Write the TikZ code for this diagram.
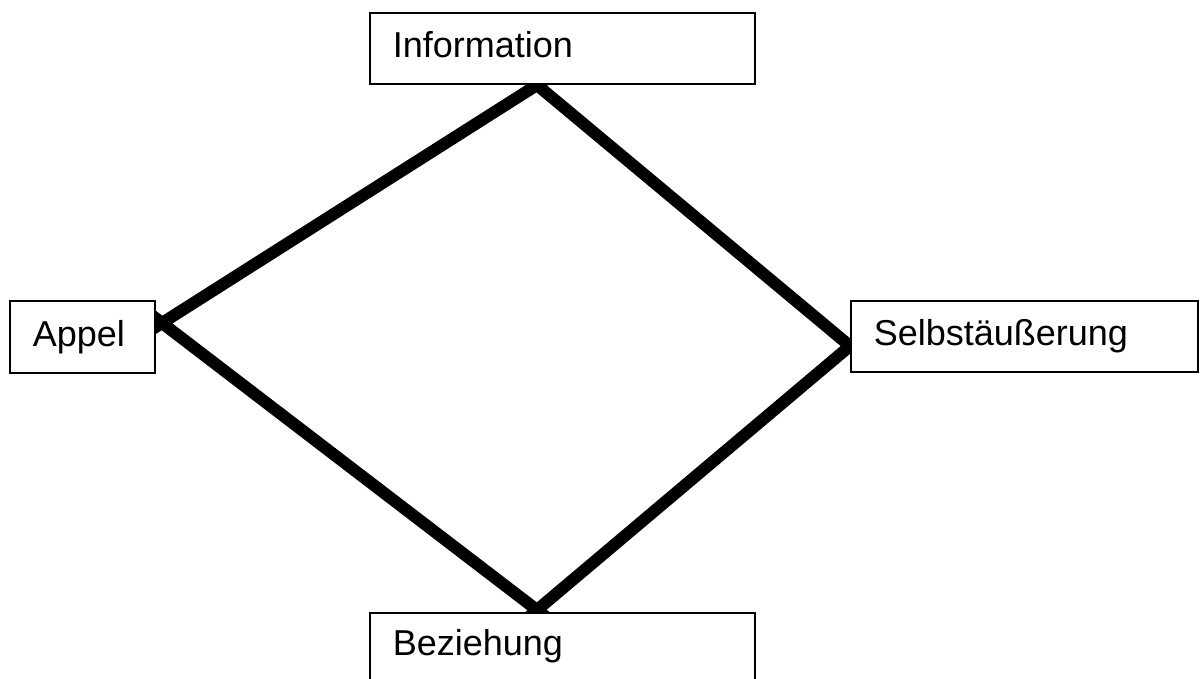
\documentclass[tikz,border=0pt]{standalone}
\usepackage{fontspec}
\setmainfont{Liberation Sans}
\begin{document}
\begin{tikzpicture}[x=1pt,y=-1pt,
  box/.style={draw,fill=white,line width=1.6pt,rectangle,inner sep=0pt,anchor=north west,align=left,font=\fontsize{36}{40}\selectfont},
  edge/.style={line width=12pt,line cap=butt,shorten <=-12pt,shorten >=-12pt}]
\useasboundingbox[fill=white] (0,0) rectangle (1204,679);
\coordinate (t) at (537,85);
\coordinate (l) at (162,323);
\coordinate (r) at (850,346);
\coordinate (b) at (537,610);
\draw[edge] (t) -- (l);
\draw[edge] (l) -- (b);
\draw[edge] (b) -- (r);
\draw[edge] (r) -- (t);
\node[box,minimum width=385pt,minimum height=71pt,text width=339pt,text depth=7pt] (info) at (369,12) {Information};
\node[box,minimum width=145pt,minimum height=72pt,text width=99pt] (appel) at (9,300) {Appel};
\node[box,minimum width=347pt,minimum height=71pt,text width=301pt] (selbst) at (850,300) {Selbstäußerung};
\node[box,minimum width=385pt,minimum height=80pt,text width=339pt,text depth=20pt] (bez) at (369,612) {Beziehung};
\end{tikzpicture}
\end{document}
